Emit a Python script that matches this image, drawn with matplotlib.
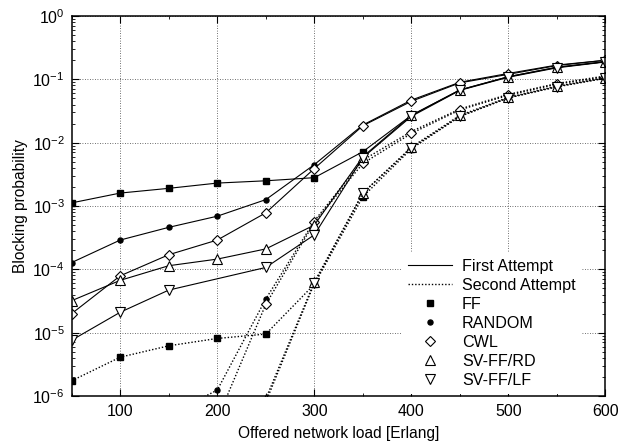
import numpy as np
import matplotlib
matplotlib.use("Agg")
import matplotlib.pyplot as plt
from matplotlib.lines import Line2D
from matplotlib.ticker import LogLocator, FixedLocator, NullFormatter

plt.rcParams['font.family'] = ['Liberation Sans', 'DejaVu Sans']
plt.rcParams['mathtext.fontset'] = 'custom'
plt.rcParams['mathtext.rm'] = 'Liberation Sans'
plt.rcParams['mathtext.it'] = 'Liberation Sans:italic'
plt.rcParams['mathtext.bf'] = 'Liberation Sans:bold'

# ---- data ----
loads = [50, 100, 150, 200, 250, 300, 350, 400, 450, 500, 550, 600]
loads_lf_first = [50, 100, 150, 250, 300, 350, 400, 450, 500, 550, 600]

first_ff = [1.12e-3, 1.6e-3, 1.9e-3, 2.3e-3, 2.5e-3, 2.8e-3, 7.2e-3, 2.7e-2, 6.8e-2, 1.1e-1, 1.55e-1, 1.9e-1]
first_random = [1.28e-4, 2.9e-4, 4.6e-4, 6.9e-4, 1.26e-3, 4.5e-3, 1.9e-2, 4.7e-2, 9.0e-2, 1.24e-1, 1.68e-1, 2.0e-1]
first_cwl = [2.0e-5, 7.9e-5, 1.7e-4, 2.9e-4, 7.8e-4, 3.9e-3, 1.85e-2, 4.5e-2, 8.8e-2, 1.2e-1, 1.65e-1, 2.0e-1]
first_rd = [3.2e-5, 6.7e-5, 1.14e-4, 1.45e-4, 2.1e-4, 5.0e-4, 6.0e-3, 2.7e-2, 6.8e-2, 1.1e-1, 1.55e-1, 1.9e-1]
first_lf = [7.6e-6, 2.1e-5, 4.7e-5, 1.07e-4, 3.5e-4, 5.8e-3, 2.6e-2, 6.7e-2, 1.08e-1, 1.52e-1, 1.88e-1]

loads_ff_second = [50, 100, 150, 200, 250, 300, 350, 400, 450, 500, 550, 600]
second_ff = [1.74e-6, 4.1e-6, 6.2e-6, 8.1e-6, 9.5e-6, 5.8e-5, 1.4e-3, 8.0e-3, 2.6e-2, 5.1e-2, 7.6e-2, 1.04e-1]
loads_random_second = [150, 200, 250, 300, 350, 400, 450, 500, 550, 600]
second_random = [5e-7, 1.24e-6, 3.4e-5, 5.8e-4, 5.3e-3, 1.5e-2, 3.4e-2, 5.8e-2, 8.6e-2, 1.13e-1]
loads_cwl_second = [200, 250, 300, 350, 400, 450, 500, 550, 600]
second_cwl = [4.3e-7, 2.8e-5, 5.5e-4, 4.7e-3, 1.4e-2, 3.3e-2, 5.6e-2, 8.4e-2, 1.1e-1]
loads_sv_second = [250, 300, 350, 400, 450, 500, 550, 600]
second_rd = [9e-7, 6.3e-5, 1.6e-3, 8.5e-3, 2.7e-2, 5.2e-2, 7.8e-2, 1.06e-1]
second_lf = [8e-7, 6.0e-5, 1.6e-3, 8.3e-3, 2.6e-2, 5.1e-2, 7.7e-2, 1.05e-1]

x_ticks = [100, 200, 300, 400, 500, 600]
x_minor = [50, 150, 250, 350, 450, 550]
legend_labels = ['First Attempt', 'Second Attempt', 'FF', 'RANDOM', 'CWL', 'SV-FF/RD', 'SV-FF/LF']

# ---- styles ----
mk = {
    'FF': dict(marker='s', ms=4.6, mfc='k', mec='k'),
    'RANDOM': dict(marker='o', ms=3.6, mfc='k', mec='k'),
    'CWL': dict(marker='D', ms=5.0, mfc='white', mec='k', mew=0.8),
    'RD': dict(marker='^', ms=6.5, mfc='white', mec='k', mew=0.8),
    'LF': dict(marker='v', ms=6.5, mfc='white', mec='k', mew=0.8),
}

fig = plt.figure(figsize=(6.35, 4.48), dpi=100)
ax = fig.add_axes([0.1129, 0.1161, 0.9535 - 0.1129, 0.9643 - 0.1161])

lw = 0.8
dot = (0, (1.0, 1.4))

# second attempt (dotted)
ax.plot(loads_ff_second, second_ff, color='k', lw=1.0, ls=dot, **mk['FF'])
ax.plot(loads_random_second, second_random, color='k', lw=1.0, ls=dot, **mk['RANDOM'])
ax.plot(loads_cwl_second, second_cwl, color='k', lw=1.0, ls=dot, **mk['CWL'])
ax.plot(loads_sv_second, second_rd, color='k', lw=1.0, ls=dot, **mk['RD'])
ax.plot(loads_sv_second, second_lf, color='k', lw=1.0, ls=dot, **mk['LF'])

# first attempt (solid)
ax.plot(loads, first_ff, color='k', lw=lw, ls='-', **mk['FF'])
ax.plot(loads, first_random, color='k', lw=lw, ls='-', **mk['RANDOM'])
ax.plot(loads, first_cwl, color='k', lw=lw, ls='-', **mk['CWL'])
ax.plot(loads, first_rd, color='k', lw=lw, ls='-', **mk['RD'])
ax.plot(loads_lf_first, first_lf, color='k', lw=lw, ls='-', **mk['LF'])

ax.set_yscale('log')
ax.set_xlim(50, 600)
ax.set_ylim(1e-6, 1)
ax.xaxis.set_major_locator(FixedLocator(x_ticks))
ax.xaxis.set_minor_locator(FixedLocator(x_minor))
ax.yaxis.set_major_locator(LogLocator(base=10, numticks=10))
ax.yaxis.set_minor_locator(LogLocator(base=10, subs=np.arange(2, 10), numticks=20))
ax.yaxis.set_minor_formatter(NullFormatter())

ax.tick_params(which='both', direction='in', top=True, right=True, colors='k')
ax.tick_params(axis='x', which='major', labelsize=11.5, length=5, width=0.8, pad=6)
ax.tick_params(axis='y', which='major', labelsize=11.5, length=5, width=0.8, pad=5)
ax.tick_params(which='minor', length=2.5, width=0.6)

ax.grid(True, which='major', color='0.25', lw=0.6, ls=(0, (1, 2)))
for s in ax.spines.values():
    s.set_linewidth(1.1)

ax.set_xlabel('Offered network load [Erlang]', fontsize=11.2, labelpad=5)
ax.set_ylabel('Blocking probability', fontsize=11.2, labelpad=3)

handles = [
    Line2D([], [], color='k', lw=lw, ls='-'),
    Line2D([], [], color='k', lw=1.0, ls=dot),
    Line2D([], [], ls='none', **mk['FF']),
    Line2D([], [], ls='none', **mk['RANDOM']),
    Line2D([], [], ls='none', **mk['CWL']),
    Line2D([], [], ls='none', **mk['RD']),
    Line2D([], [], ls='none', **mk['LF']),
]
leg = ax.legend(handles, legend_labels, loc='lower right', fontsize=11.6,
                bbox_to_anchor=(0.956, 0.004),
                frameon=True, fancybox=False, framealpha=1, edgecolor='none',
                facecolor='white', handlelength=2.7, handletextpad=0.62,
                labelspacing=0.25, borderpad=0.4, borderaxespad=0.0)

fig.savefig('out.png', dpi=100)
